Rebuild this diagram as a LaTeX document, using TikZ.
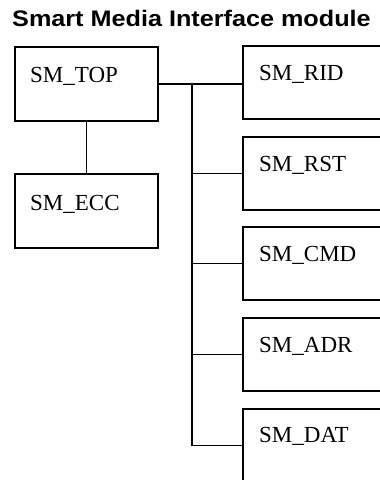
\documentclass[tikz,border=0pt]{standalone}
\usepackage{fontspec}
\setmainfont{Liberation Serif}
\newfontfamily\titlefont{Liberation Sans}
\begin{document}
\begin{tikzpicture}[x=1pt,y=-1pt,
  modbox/.style={draw=black, line width=2pt, anchor=north west, inner sep=0pt, minimum height=73pt},
  lbl/.style={anchor=base west, inner sep=0pt, font=\fontsize{23}{26}\selectfont},
  wire/.style={draw=black, line width=1.8pt}]
\useasboundingbox (0,0) rectangle (380,480);
\clip (0,0) rectangle (380,480);
\node[anchor=base west, inner sep=0pt, xscale=1.12, font=\titlefont\bfseries\fontsize{22.5}{26}\selectfont] (title) at (12,26) {Smart Media Interface module};
% left boxes
\node[modbox, minimum width=143pt, minimum height=74pt] (top) at (14,46) {};
\node[modbox, minimum width=143pt, minimum height=74pt] (ecc) at (14,173) {};
% right boxes
\node[modbox, minimum width=150pt] (rid) at (242,45) {};
\node[modbox, minimum width=150pt] (rst) at (242,136) {};
\node[modbox, minimum width=150pt] (cmd) at (242,226) {};
\node[modbox, minimum width=150pt] (adr) at (242,317) {};
\node[modbox, minimum width=150pt] (dat) at (242,408) {};
% labels
\node[lbl] (ltop) at ([shift={(16,36)}]top.north west) {SM\_TOP};
\node[lbl] (lecc) at ([shift={(16,37)}]ecc.north west) {SM\_ECC};
\node[lbl] (lrid) at ([shift={(17,35)}]rid.north west) {SM\_RID};
\node[lbl] (lrst) at ([shift={(17,35)}]rst.north west) {SM\_RST};
\node[lbl] (lcmd) at ([shift={(17,35)}]cmd.north west) {SM\_CMD};
\node[lbl] (ladr) at ([shift={(17,35)}]adr.north west) {SM\_ADR};
\node[lbl] (ldat) at ([shift={(17,34)}]dat.north west) {SM\_DAT};
% connectors
\draw[wire] (top.south) -- (ecc.north);
\draw[wire] (top.east) -- (top.east -| rid.west);
\coordinate (j) at (192,0 |- top.east);
\draw[wire] (j) |- (rst.west);
\draw[wire] (j) |- (cmd.west);
\draw[wire] (j) |- (adr.west);
\draw[wire] (j) |- (dat.west);
\end{tikzpicture}
\end{document}
